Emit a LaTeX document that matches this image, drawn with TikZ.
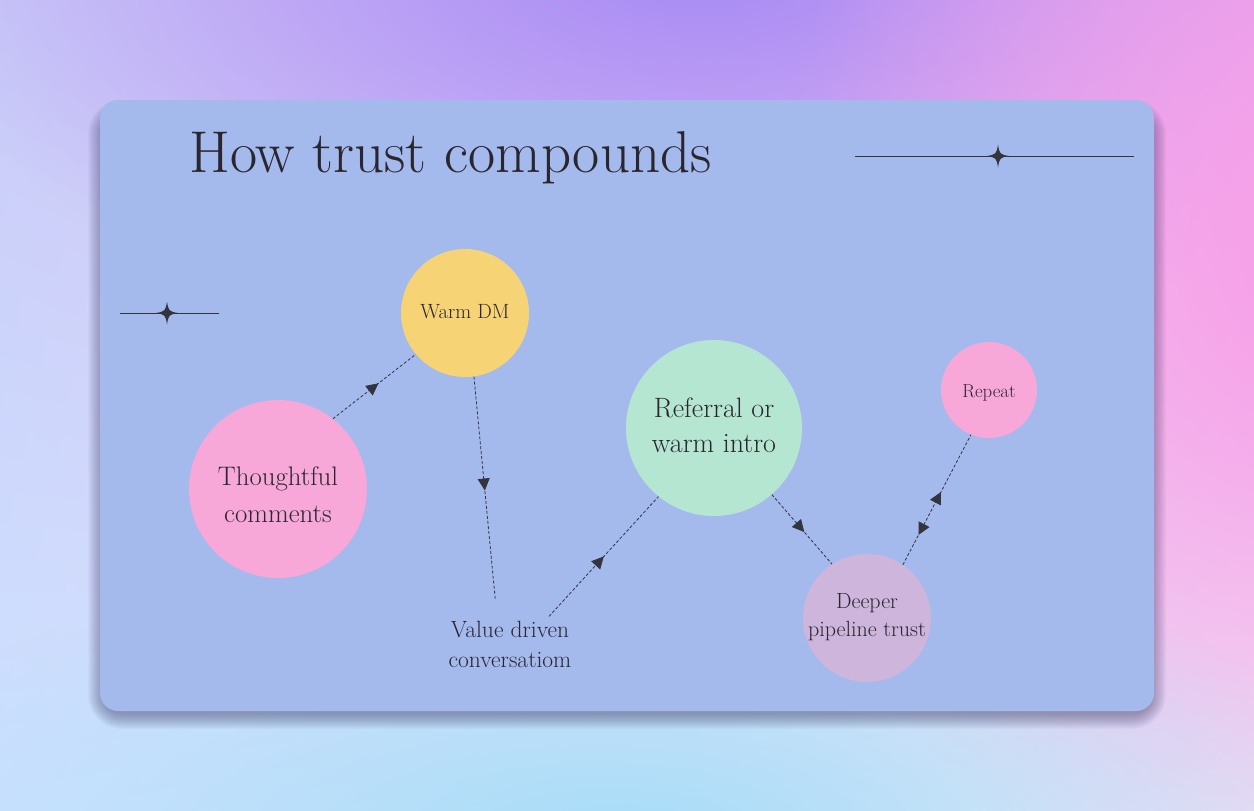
\documentclass[tikz,border=0pt]{standalone}
\usepackage{fontspec}
\usetikzlibrary{arrows.meta,decorations.markings,fadings,shadings}
\definecolor{bgUL}{HTML}{CACAF8}
\definecolor{bgUR}{HTML}{F4AEEE}
\definecolor{bgLL}{HTML}{CFE2FF}
\definecolor{bgLR}{HTML}{F0ECF6}
\definecolor{bgPurple}{HTML}{A68AF5}
\definecolor{bgPink}{HTML}{F79FE8}
\definecolor{bgCyan}{HTML}{A6DCF8}
\definecolor{card}{HTML}{A4B9EC}
\definecolor{shadowcol}{HTML}{3A3560}
\definecolor{cPink}{HTML}{F7A8D8}
\definecolor{cYellow}{HTML}{F6D476}
\definecolor{cGreen}{HTML}{B5E6D1}
\definecolor{cMauve}{HTML}{CEB5DB}
\definecolor{ink}{HTML}{2A2630}
\definecolor{inkline}{HTML}{34343F}
\tikzfading[name=softblob, inner color=transparent!0, outer color=transparent!100]
\tikzset{
  bubble/.style={circle, inner sep=0pt, draw=none},
  lbl/.style={text=ink, inner sep=0pt, anchor=base},
  conn/.style={draw=inkline, line width=0.8pt, dash pattern=on 3pt off 2pt},
  midarrow/.style={postaction={decorate, decoration={markings,
    mark=at position #1 with {\arrow[inkline]{Triangle[length=12pt,width=12pt]}}}}},
  midarrowrev/.style={postaction={decorate, decoration={markings,
    mark=at position #1 with {\arrowreversed[inkline]{Triangle[length=12pt,width=12pt]}}}}},
  sparkle/.pic={
    \fill[inkline] (0,-11.5) .. controls (1.4,-2.2) and (2.2,-1.4) .. (11,0)
      .. controls (2.2,1.4) and (1.4,2.2) .. (0,11.5)
      .. controls (-1.4,2.2) and (-2.2,1.4) .. (-11,0)
      .. controls (-2.2,-1.4) and (-1.4,-2.2) .. (0,-11.5) -- cycle;
  },
  rule/.style={draw=inkline, line width=1pt}
}
\begin{document}
\begin{tikzpicture}[x=1pt,y=-1pt]
\useasboundingbox (0,0) rectangle (1254,811);
% background
\shade[upper left=bgUL, upper right=bgUR, lower left=bgLL, lower right=bgLR] (0,0) rectangle (1254,811);
\fill[bgPurple, path fading=softblob] (700,-40) ellipse [x radius=800, y radius=400];
\fill[bgPink, path fading=softblob] (1300,260) ellipse [x radius=520, y radius=700];
\fill[bgCyan, path fading=softblob] (620,840) ellipse [x radius=800, y radius=300];
% card shadow
\foreach \i in {1,...,16}{
  \pgfmathsetmacro{\rr}{18+\i}
  \fill[shadowcol, opacity=0.03, rounded corners=\rr pt] (104-\i,116-\i) rectangle (1150+\i,713+\i);
}
% card
\fill[card, rounded corners=18pt] (100,100) rectangle (1154,711);
% title
\node[lbl, anchor=base west, font=\fontsize{59}{66}\selectfont] (title) at (189,172) {How trust compounds};
% decorative rules
\draw[rule] (855,156) -- (1134,156);
\pic at (998,156) {sparkle};
\draw[rule] (120,313) -- (219,313);
\pic at (167,313) {sparkle};
% bubbles
\node[bubble, fill=cPink, minimum size=178pt] (thought) at (278,489) {};
\node[bubble, fill=cYellow, minimum size=128pt] (warm) at (465,313) {};
\node[bubble, fill=cGreen, minimum size=176pt] (referral) at (714,428) {};
\node[bubble, fill=cMauve, minimum size=128pt] (deeper) at (867,618) {};
\node[bubble, fill=cPink, minimum size=96pt] (repeat) at (989,390) {};
\node[bubble, minimum size=100pt] (value) at (510,648) {};
% labels
\node[lbl, font=\fontsize{26.8}{30}\selectfont] (thoughtA) at (278,485) {Thoughtful};
\node[lbl, font=\fontsize{26.8}{30}\selectfont] (thoughtB) at (278,522) {comments};
\node[lbl, font=\fontsize{20.6}{24}\selectfont] (warmA) at (465,318) {Warm DM};
\node[lbl, font=\fontsize{28}{32}\selectfont] (referralA) at (714,417) {Referral or};
\node[lbl, font=\fontsize{28}{32}\selectfont] (referralB) at (714,452) {warm intro};
\node[lbl, font=\fontsize{22}{26}\selectfont] (deeperA) at (867,608) {Deeper};
\node[lbl, font=\fontsize{22}{26}\selectfont] (deeperB) at (867,636) {pipeline trust};
\node[lbl, font=\fontsize{18.8}{22}\selectfont] (repeatA) at (989,397) {Repeat};
\node[lbl, font=\fontsize{23.5}{27}\selectfont] (valueA) at (510,637) {Value driven};
\node[lbl, font=\fontsize{23.5}{27}\selectfont] (valueB) at (510,667) {conversatiom};
% connectors
\draw[conn, midarrow=0.55] (thought.52) -- (warm.220);
\draw[conn, midarrow=0.51] (warm.278) -- (value.107);
\draw[conn, midarrow=0.50] (value.39) -- (referral.231);
\draw[conn, midarrow=0.54] (referral.311) -- (deeper.123);
\draw[conn, midarrow=0.56, midarrowrev=0.23] (deeper.56) -- (repeat.248);
\end{tikzpicture}
\end{document}
